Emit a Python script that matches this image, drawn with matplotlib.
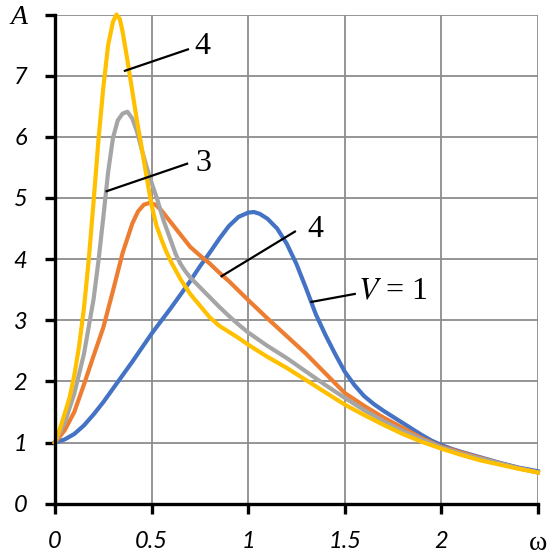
import matplotlib
matplotlib.use("Agg")
import matplotlib.pyplot as plt

plt.rcParams["mathtext.fontset"] = "stix"

# curves (omega, A)
w_blue = [0, 0.05, 0.1, 0.15, 0.2, 0.25, 0.3, 0.35, 0.4, 0.45, 0.5, 0.55,
          0.6, 0.65, 0.7, 0.75, 0.8, 0.85, 0.9, 0.95, 1.0, 1.03, 1.06, 1.1,
          1.15, 1.2, 1.25, 1.3, 1.35, 1.4, 1.45, 1.5, 1.55, 1.6, 1.65, 1.7,
          1.75, 1.8, 1.85, 1.9, 1.95, 2.0, 2.05, 2.1, 2.2, 2.3, 2.4, 2.5]
a_blue = [1.0, 1.05, 1.14, 1.28, 1.46, 1.66, 1.88, 2.1, 2.32, 2.55, 2.78, 2.99,
          3.2, 3.42, 3.64, 3.88, 4.1, 4.33, 4.54, 4.69, 4.76, 4.77, 4.74, 4.66,
          4.5, 4.25, 3.92, 3.52, 3.1, 2.76, 2.45, 2.16, 1.94, 1.76, 1.63, 1.52,
          1.42, 1.32, 1.22, 1.12, 1.03, 0.96, 0.9, 0.85, 0.76, 0.67, 0.59, 0.53]

w_orange = [0, 0.05, 0.1, 0.15, 0.2, 0.25, 0.3, 0.35, 0.4, 0.43, 0.46, 0.49,
            0.52, 0.55, 0.6, 0.65, 0.7, 0.75, 0.8, 0.85, 0.9, 1.0, 1.1, 1.2,
            1.3, 1.4, 1.5, 1.6, 1.7, 1.8, 1.9, 2.0, 2.1, 2.2, 2.3, 2.4, 2.5]
a_orange = [1.0, 1.2, 1.5, 1.95, 2.42, 2.88, 3.48, 4.1, 4.58, 4.78, 4.89, 4.92,
            4.89, 4.8, 4.6, 4.4, 4.2, 4.06, 3.93, 3.78, 3.64, 3.33, 3.03, 2.74,
            2.45, 2.13, 1.81, 1.6, 1.41, 1.24, 1.07, 0.93, 0.84, 0.75, 0.66,
            0.58, 0.51]

w_gray = [0, 0.05, 0.1, 0.15, 0.2, 0.225, 0.25, 0.275, 0.3, 0.325, 0.35,
          0.375, 0.4, 0.425, 0.45, 0.475, 0.5, 0.53, 0.56, 0.6, 0.625, 0.65,
          0.675, 0.7, 0.75, 0.8, 0.85, 0.9, 0.95, 1.0, 1.1, 1.2, 1.3, 1.4,
          1.5, 1.6, 1.7, 1.8, 1.9, 2.0, 2.1, 2.2, 2.3, 2.4, 2.5]
a_gray = [1.0, 1.32, 1.8, 2.45, 3.35, 3.97, 4.68, 5.42, 5.98, 6.27, 6.38,
          6.41, 6.3, 6.08, 5.78, 5.5, 5.25, 4.97, 4.65, 4.3, 4.08, 3.92,
          3.8, 3.7, 3.54, 3.38, 3.22, 3.07, 2.93, 2.8, 2.58, 2.38, 2.16, 1.94,
          1.73, 1.53, 1.35, 1.19, 1.05, 0.92, 0.82, 0.74, 0.66, 0.58, 0.51]

w_yellow = [0, 0.025, 0.05, 0.075, 0.1, 0.125, 0.15, 0.175, 0.2, 0.225, 0.25,
            0.275, 0.3, 0.318, 0.335, 0.35, 0.375, 0.4, 0.425, 0.45, 0.475,
            0.5, 0.525, 0.55, 0.575, 0.6, 0.65, 0.7, 0.75, 0.8, 0.85, 0.9,
            0.95, 1.0, 1.1, 1.2, 1.3, 1.4, 1.5, 1.6, 1.7, 1.8, 1.9, 2.0, 2.1,
            2.2, 2.3, 2.4, 2.5]
a_yellow = [1.0, 1.22, 1.47, 1.73, 2.1, 2.58, 3.2, 4.0, 4.95, 5.95, 6.8,
            7.5, 7.88, 8.0, 7.93, 7.72, 7.25, 6.75, 6.25, 5.8, 5.33,
            4.88, 4.55, 4.33, 4.13, 3.96, 3.67, 3.43, 3.24, 3.05, 2.91, 2.81,
            2.71, 2.6, 2.4, 2.22, 2.02, 1.82, 1.62, 1.45, 1.29, 1.14, 1.01,
            0.9, 0.8, 0.71, 0.64, 0.57, 0.51]

x_ticks = [0, 0.5, 1, 1.5, 2, 2.5]
x_labels = ["0", "0.5", "1", "1.5", "2", "ω"]
y_ticks = [0, 1, 2, 3, 4, 5, 6, 7, 8]
y_labels = ["0", "1", "2", "3", "4", "5", "6", "7", "A"]

fig = plt.figure(figsize=(5.5, 5.59), dpi=100)
ax = fig.add_axes([0.1, 0.099, 0.878, 0.875])

ax.plot(w_blue, a_blue, color="#4472C4", lw=3, clip_on=False, zorder=3)
ax.plot(w_orange, a_orange, color="#ED7D31", lw=3, clip_on=False, zorder=3)
ax.plot(w_gray, a_gray, color="#A5A5A5", lw=3, clip_on=False, zorder=3)
ax.plot(w_yellow, a_yellow, color="#FFC000", lw=3, clip_on=False, zorder=3)

ax.set_xlim(0, 2.5)
ax.set_ylim(0, 8)
ax.set_xticks(x_ticks)
ax.set_yticks(y_ticks)
ax.set_xticklabels(x_labels, fontfamily="Lato", fontstyle="italic", fontsize=17)
ax.set_yticklabels(y_labels, fontfamily="Lato", fontstyle="italic", fontsize=17)
ax.get_xticklabels()[-1].set_fontfamily("Liberation Serif")
ax.get_xticklabels()[-1].set_fontstyle("normal")
ax.get_xticklabels()[-1].set_fontsize(20)
ax.get_yticklabels()[-1].set_fontfamily("Liberation Serif")
ax.get_yticklabels()[-1].set_fontsize(20)

ax.grid(True, color="#8c8c8c", lw=1.3)
ax.set_axisbelow(True)
for s in ["top", "right"]:
    ax.spines[s].set_visible(False)
for s in ["left", "bottom"]:
    ax.spines[s].set_linewidth(2.4)
    ax.spines[s].set_zorder(4)
ax.tick_params(direction="out", length=7, width=2.4, pad=13)

# callout lines and labels
lk = dict(color="black", lw=1.6, zorder=5)
tk = dict(fontfamily="Liberation Serif", fontsize=23, va="center")
ax.plot([0.362, 0.688], [7.08, 7.43], **lk)
ax.text(0.72, 7.47, "4", **tk)
ax.plot([0.267, 0.684], [5.11, 5.56], **lk)
ax.text(0.725, 5.57, "3", **tk)
ax.plot([0.862, 1.242], [3.72, 4.45], **lk)
ax.text(1.305, 4.48, "4", **tk)
ax.plot([1.328, 1.552], [3.3, 3.43], **lk)
ax.text(1.57, 3.47, "$V$ = 1", **tk)

fig.savefig("out.png", dpi=100)
